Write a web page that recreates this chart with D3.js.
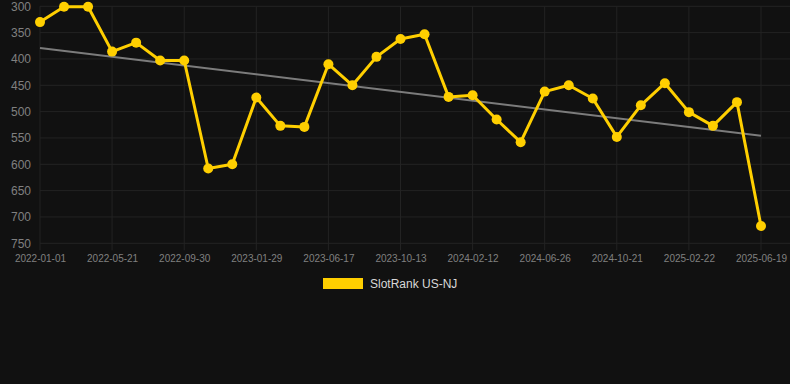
<!DOCTYPE html>
<html>
<head>
<meta charset="utf-8">
<script src="https://cdn.jsdelivr.net/npm/d3@7"></script>
<style>
  html, body { margin: 0; padding: 0; background: #111111; }
  svg { display: block; font-family: Arial, "Liberation Sans", Helvetica, sans-serif; }
</style>
</head>
<body>
<svg id="chart" width="790" height="384"></svg>
<script>
// dates on the category axis (only every third one is labelled)
var dates = ['2022-01-01', '2022-02-16', '2022-04-04', '2022-05-21', '2022-07-04', '2022-08-17',
  '2022-09-30', '2022-11-09', '2022-12-20', '2023-01-29', '2023-03-16', '2023-05-01',
  '2023-06-17', '2023-07-27', '2023-09-04', '2023-10-13', '2023-11-23', '2024-01-02',
  '2024-02-12', '2024-03-27', '2024-05-12', '2024-06-26', '2024-08-13', '2024-09-17',
  '2024-10-21', '2024-12-02', '2025-01-12', '2025-02-22', '2025-04-01', '2025-05-10',
  '2025-06-19'];

var ranks = [330, 301, 301, 386, 369, 403, 403, 608, 600, 473, 527, 529,
  410, 450, 396, 362, 353, 472, 469, 515, 558, 462, 450, 475,
  548, 488, 446, 501, 527, 482, 717];

// trend line end values
var trend = [379, 546];

var yTicks = [300, 350, 400, 450, 500, 550, 600, 650, 700, 750];
var seriesName = 'SlotRank US-NJ';

var svg = d3.select('#chart');

var x = d3.scalePoint().domain(dates).range([40, 761]);
var y = d3.scaleLinear().domain([300, 750]).range([6.3, 243.3]);

var labelled = dates.filter(function (d, i) { return i % 3 === 0; });

// grid
svg.append('g')
  .selectAll('line')
  .data(yTicks)
  .enter().append('line')
  .attr('x1', 40).attr('x2', 790)
  .attr('y1', function (d) { return y(d); })
  .attr('y2', function (d) { return y(d); })
  .attr('stroke', '#232323')
  .attr('stroke-width', 1);

svg.append('g')
  .selectAll('line')
  .data(labelled)
  .enter().append('line')
  .attr('x1', function (d) { return x(d); })
  .attr('x2', function (d) { return x(d); })
  .attr('y1', y(300)).attr('y2', y(750) + 7)
  .attr('stroke', '#232323')
  .attr('stroke-width', 1);

// y axis
var yAxis = svg.append('g')
  .attr('transform', 'translate(31,0)')
  .call(d3.axisLeft(y).tickValues(yTicks).tickSize(0).tickPadding(0));
yAxis.select('.domain').remove();
yAxis.selectAll('text')
  .attr('fill', '#808080')
  .style('font-size', '12px');

// x axis
var xAxis = svg.append('g')
  .attr('transform', 'translate(0,' + y(750) + ')')
  .call(d3.axisBottom(x).tickValues(labelled).tickSize(0).tickPadding(12));
xAxis.select('.domain').remove();
xAxis.selectAll('text')
  .attr('fill', '#808080')
  .style('font-size', '10px');

// trend
svg.append('line')
  .attr('x1', x(dates[0]))
  .attr('x2', x(dates[dates.length - 1]))
  .attr('y1', y(trend[0]))
  .attr('y2', y(trend[1]))
  .attr('stroke', '#7c7c7c')
  .attr('stroke-width', 2);

// series
var line = d3.line()
  .x(function (d, i) { return x(dates[i]); })
  .y(function (d) { return y(d); });

svg.append('path')
  .datum(ranks)
  .attr('d', line)
  .attr('fill', 'none')
  .attr('stroke', '#ffcf00')
  .attr('stroke-width', 3)
  .attr('stroke-linejoin', 'round');

svg.append('g')
  .selectAll('circle')
  .data(ranks)
  .enter().append('circle')
  .attr('cx', function (d, i) { return x(dates[i]); })
  .attr('cy', function (d) { return y(d); })
  .attr('r', 5)
  .attr('fill', '#ffcf00');

// legend
var legend = svg.append('g').attr('transform', 'translate(323,278)');
legend.append('rect')
  .attr('width', 40)
  .attr('height', 11)
  .attr('fill', '#ffcf00');
legend.append('text')
  .attr('x', 47)
  .attr('y', 6)
  .attr('dy', '0.35em')
  .attr('fill', '#d8d8d8')
  .style('font-size', '12px')
  .text(seriesName);
</script>
</body>
</html>
